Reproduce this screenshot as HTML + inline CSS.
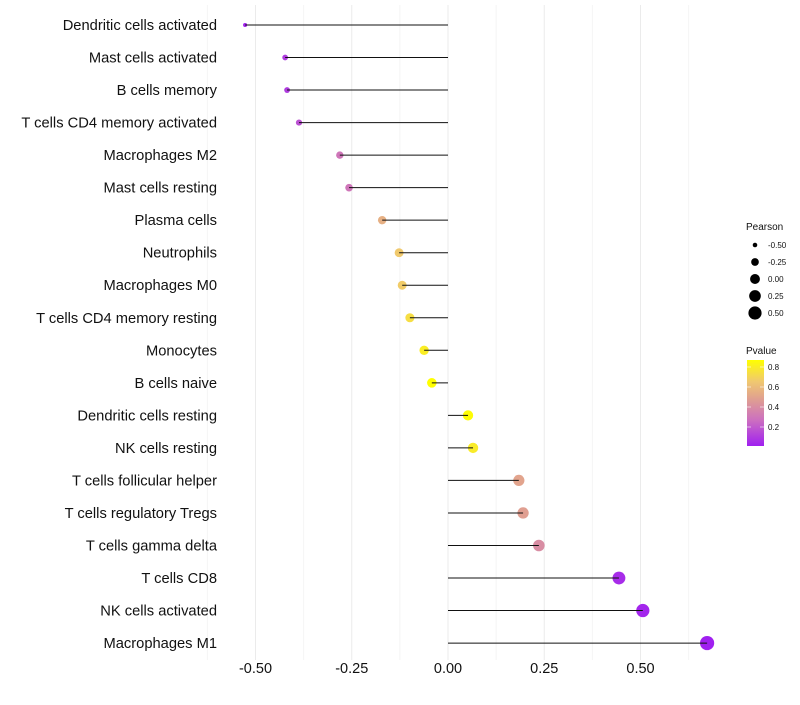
<!DOCTYPE html>
<html><head><meta charset="utf-8"><style>
body{margin:0;background:#fff;font-family:"Liberation Sans",sans-serif}
</style></head><body>
<svg id="c" width="800" height="700" xmlns="http://www.w3.org/2000/svg"></svg>
<script>
const cats=["Dendritic cells activated","Mast cells activated","B cells memory","T cells CD4 memory activated","Macrophages M2","Mast cells resting","Plasma cells","Neutrophils","Macrophages M0","T cells CD4 memory resting","Monocytes","B cells naive","Dendritic cells resting","NK cells resting","T cells follicular helper","T cells regulatory  Tregs ","T cells gamma delta","T cells CD8","NK cells activated","Macrophages M1"];
const pearson=[-0.527,-0.423,-0.418,-0.387,-0.281,-0.257,-0.171,-0.127,-0.119,-0.099,-0.062,-0.042,0.052,0.065,0.184,0.195,0.236,0.444,0.506,0.673];
const pvalue=[0.02,0.1,0.1,0.17,0.3,0.3,0.55,0.66,0.67,0.74,0.8,0.87,0.86,0.79,0.5,0.48,0.4,0.05,0.03,0.01];
const xTicks=[-0.5,-0.25,0,0.25,0.5];
const xTickLabels=["-0.50","-0.25","0.00","0.25","0.50"];
const sizeLegend=[-0.5,-0.25,0,0.25,0.5];
const sizeLegendLabels=["-0.50","-0.25","0.00","0.25","0.50"];
const colorTicks=[0.2,0.4,0.6,0.8];

const svg=document.getElementById('c');const NS="http://www.w3.org/2000/svg";
function el(t,a,p){const e=document.createElementNS(NS,t);for(const k in a)e.setAttribute(k,a[k]);(p||svg).appendChild(e);return e;}
const X=v=>448+v*385;
const Y=i=>25+i*32.53;
const R=v=>Math.sqrt(Math.max(1,24.4+38.3*v));
const stops=[[0,[160,32,240]],[0.3,[204,111,192]],[0.55,[224,160,144]],[0.75,[240,200,112]],[1,[255,255,0]]];
function col(p){let t=(p-0.01)/(0.87-0.01);t=Math.max(0,Math.min(1,t));
 for(let i=1;i<stops.length;i++){if(t<=stops[i][0]){const a=stops[i-1],b=stops[i];const f=(t-a[0])/(b[0]-a[0]);
 return 'rgb('+a[1].map((c,j)=>Math.round(c+(b[1][j]-c)*f)).join(',')+')';}}return 'rgb(255,255,0)';}

for(let k=0;k<xTicks.length;k++){
 const g=el('line',{x1:X(xTicks[k]),x2:X(xTicks[k]),y1:5,y2:660,stroke:'#ebebeb','stroke-width':1});
 
 const m=xTicks[k]+0.125;
 const gm=el('line',{x1:X(m),x2:X(m),y1:5,y2:660,stroke:'#f4f4f4','stroke-width':1});
 
 const t=el('text',{x:X(xTicks[k]),y:673,'text-anchor':'middle','font-size':14.5,fill:'#111'});t.textContent=xTickLabels[k];
 
}
{const m=xTicks[0]-0.125;const gm=el('line',{x1:X(m),x2:X(m),y1:5,y2:660,stroke:'#f4f4f4'});}

for(let i=0;i<cats.length;i++){
 const y=Y(i);
 const t=el('text',{x:217,y:y+5,'text-anchor':'end','font-size':14.7,fill:'#111'});t.textContent=cats[i];
 
 const c=el('circle',{cx:X(pearson[i]),cy:y,r:R(pearson[i]),fill:col(pvalue[i])});
 
 const l=el('line',{x1:X(0),x2:X(pearson[i]),y1:y,y2:y,stroke:'#111','stroke-width':1});
 
}

const st=el('text',{x:746,y:230,'font-size':10,fill:'#111'});st.textContent='Pearson';

for(let k=0;k<sizeLegend.length;k++){
 const y=245+k*17;
 const c=el('circle',{cx:755,cy:y,r:R(sizeLegend[k]),fill:'#000'});
 
 const t=el('text',{x:768,y:y+3,'font-size':8,fill:'#111'});t.textContent=sizeLegendLabels[k];
 
}
const ct=el('text',{x:746,y:354,'font-size':10,fill:'#111'});ct.textContent='Pvalue';

const defs=el('defs',{});const lg=el('linearGradient',{id:'g',x1:0,y1:1,x2:0,y2:0},defs);
for(const s of stops)el('stop',{offset:s[0],'stop-color':'rgb('+s[1].join(',')+')'},lg);
const cb=el('rect',{x:747,y:360,width:17,height:86,fill:'url(#g)'});

const CY=p=>446-(p-0.01)*100;
for(const p of colorTicks){
 el('line',{x1:747,x2:751,y1:CY(p),y2:CY(p),stroke:'#fff','stroke-width':0.6});
 el('line',{x1:760,x2:764,y1:CY(p),y2:CY(p),stroke:'#fff','stroke-width':0.6});
 const t=el('text',{x:768,y:CY(p)+3,'font-size':8,fill:'#111'});t.textContent=p.toFixed(1);
 
}
</script>
</body></html>
